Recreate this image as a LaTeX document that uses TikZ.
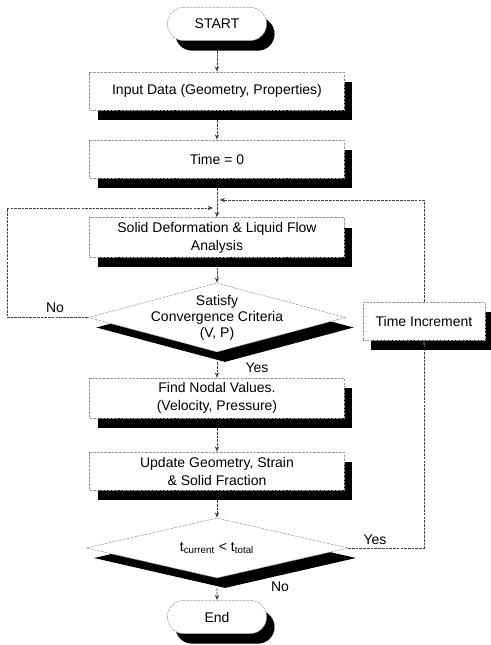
\documentclass[tikz,border=0pt]{standalone}
\usepackage{fontspec}
\setmainfont{Liberation Sans}
\usetikzlibrary{shapes.geometric,shapes.misc,shadows,arrows.meta}
\tikzset{
  outline/.style={draw=black!40, dash pattern=on 2pt off 0.8pt, line width=0.4pt, fill=white},
  dark/.style={drop shadow={shadow xshift=6pt, shadow yshift=-7.5pt, fill=black, opacity=1}},
  procbox/.style={outline, dark, rectangle, minimum width=191pt, minimum height=28.5pt, align=center},
  termbox/.style={outline, dark, rounded rectangle, minimum width=81pt, minimum height=25pt},
  decbox/.style={outline, dark, diamond, inner sep=0pt},
  flow/.style={->, draw=black!75, dash pattern=on 2pt off 0.8pt, line width=0.45pt},
}
\begin{document}
\begin{tikzpicture}[x=0.75pt, y=-0.75pt, font=\fontsize{10.5}{13.5}\selectfont, >={Stealth[length=4pt,width=3.2pt]}]
  \useasboundingbox (0,0) rectangle (491,645);
  \node[termbox] (start) at (217,24) {START};
  \node[procbox] (input) at (217,91) {Input Data (Geometry, Properties)};
  \node[procbox] (time0) at (217,159) {Time = 0};
  \node[procbox] (solid) at (217,237.5) {Solid Deformation \& Liquid Flow\\Analysis};
  \node[decbox, minimum width=193pt, minimum height=51.75pt] (conv) at (217,317.5) {};
  \node[align=center] (convtxt) at (conv) {Satisfy\\[-1.5pt]Convergence Criteria\\[-1.5pt](V, P)};
  \node[procbox, minimum width=91.5pt] (timeinc) at (424,321) {Time Increment};
  \node[procbox] (find) at (217,398) {Find Nodal Values.\\(Velocity, Pressure)};
  \node[procbox] (update) at (217,471) {Update Geometry, Strain\\\& Solid Fraction};
  \node[decbox, minimum width=196.5pt, minimum height=45pt] (check) at (217,548) {};
  \node (checktxt) at (check) {t\textsubscript{current} < t\textsubscript{total}};
  \node[termbox] (end) at (217,617) {End};
  \coordinate (nocorner) at (7,208);
  \coordinate (loopin) at (424,200);

  \draw[flow] ([yshift=-7.5pt]start.south) -- (input);
  \draw[flow] ([yshift=-7.5pt]input.south) -- (time0);
  \draw[flow] ([yshift=-7.5pt]time0.south) -- (solid);
  \draw[flow] ([yshift=-7.5pt]solid.south) -- (conv);
  \draw[flow] ([yshift=-7.5pt]conv.south) -- (find);
  \draw[flow] ([yshift=-7.5pt]find.south) -- (update);
  \draw[flow] ([yshift=-7.5pt]update.south) -- (check);
  \draw[flow] ([yshift=-7.5pt]check.south) -- (end);
  % loops back
  \draw[flow] (conv.west) -- (nocorner |- conv.west) -- (nocorner) -- ([xshift=-3pt]solid.north |- nocorner);
  \draw[flow] (check.east) -- (timeinc.south |- check.east) -- (timeinc.south);
  \draw[flow] (timeinc.north) -- (loopin) -- ([xshift=2pt]solid.north |- loopin);

  \node (yesa) at (257,368) {Yes};
  \node (noa) at (55,308) {No};
  \node (yesb) at (375,540) {Yes};
  \node (nob) at (280,587) {No};
\end{tikzpicture}
\end{document}
